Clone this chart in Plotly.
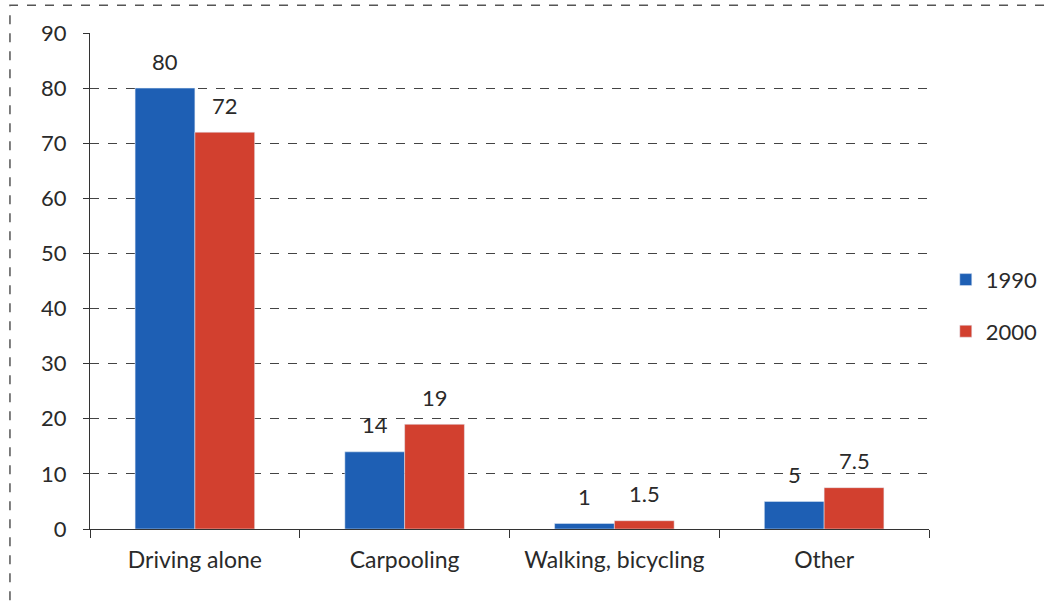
import plotly.graph_objects as go

categories = ["Driving alone", "Carpooling", "Walking, bicycling", "Other"]
values_1990 = [80, 14, 1, 5]
values_2000 = [72, 19, 1.5, 7.5]
labels_1990 = ["80", "14", "1", "5"]
labels_2000 = ["72", "19", "1.5", "7.5"]
y_ticks = [0, 10, 20, 30, 40, 50, 60, 70, 80, 90]

FONT = "Lato"
FS = 23
TXT = "#2a2a2a"

fig = go.Figure()
fig.add_trace(go.Bar(x=categories, y=values_1990, name="1990", marker_color="#1E5FB4",
                     legendgroup="a"))
fig.add_trace(go.Bar(x=categories, y=values_2000, name="2000", marker_color="#D2402F",
                     legendgroup="b"))

BARGAP = 0.43
plot_w = 1045 - 90 - 116
half_bar = plot_w / len(categories) * (1 - BARGAP) / 4

for cat, v, lab in zip(categories, values_1990, labels_1990):
    fig.add_annotation(x=cat, y=v, text=lab, showarrow=False, xshift=-half_bar, yshift=27,
                       yanchor="middle", font=dict(size=FS - 1, color=TXT))
for cat, v, lab in zip(categories, values_2000, labels_2000):
    fig.add_annotation(x=cat, y=v, text=lab, showarrow=False, xshift=half_bar, yshift=27,
                       yanchor="middle", font=dict(size=FS - 1, color=TXT))

fig.update_layout(
    width=1045, height=603,
    margin=dict(l=90, r=116, t=33, b=74, autoexpand=False),
    paper_bgcolor="white", plot_bgcolor="white",
    barmode="group", bargap=BARGAP, bargroupgap=0,
    font=dict(family=FONT, size=FS, color=TXT),
    showlegend=True,
    legend=dict(x=1.02, y=0.45, xanchor="left", yanchor="middle",
                font=dict(size=FS - 1), tracegroupgap=20, itemwidth=30),
)
fig.update_yaxes(range=[0, 90], tickvals=y_ticks, showgrid=True, gridcolor="#444444",
                 griddash="dash", gridwidth=1, showline=True, linecolor="#333333",
                 ticks="outside", ticklen=6, tickcolor="#333333", zeroline=False,
                 tickfont=dict(size=FS - 1), ticklabelstandoff=12)
fig.update_xaxes(showline=True, linecolor="#333333", ticks="outside", tickson="boundaries",
                 ticklen=8, tickcolor="#333333", tickfont=dict(size=FS),
                 ticklabelstandoff=10)
fig.add_shape(type="rect", xref="paper", yref="paper", x0=-0.0954, x1=1.3, y0=-0.3, y1=1.056,
              line=dict(color="#555555", width=1.5, dash="dash"), layer="below")

fig.write_html("out.html", config={"displayModeBar": False},
               post_script="document.body.style.margin='0';")
